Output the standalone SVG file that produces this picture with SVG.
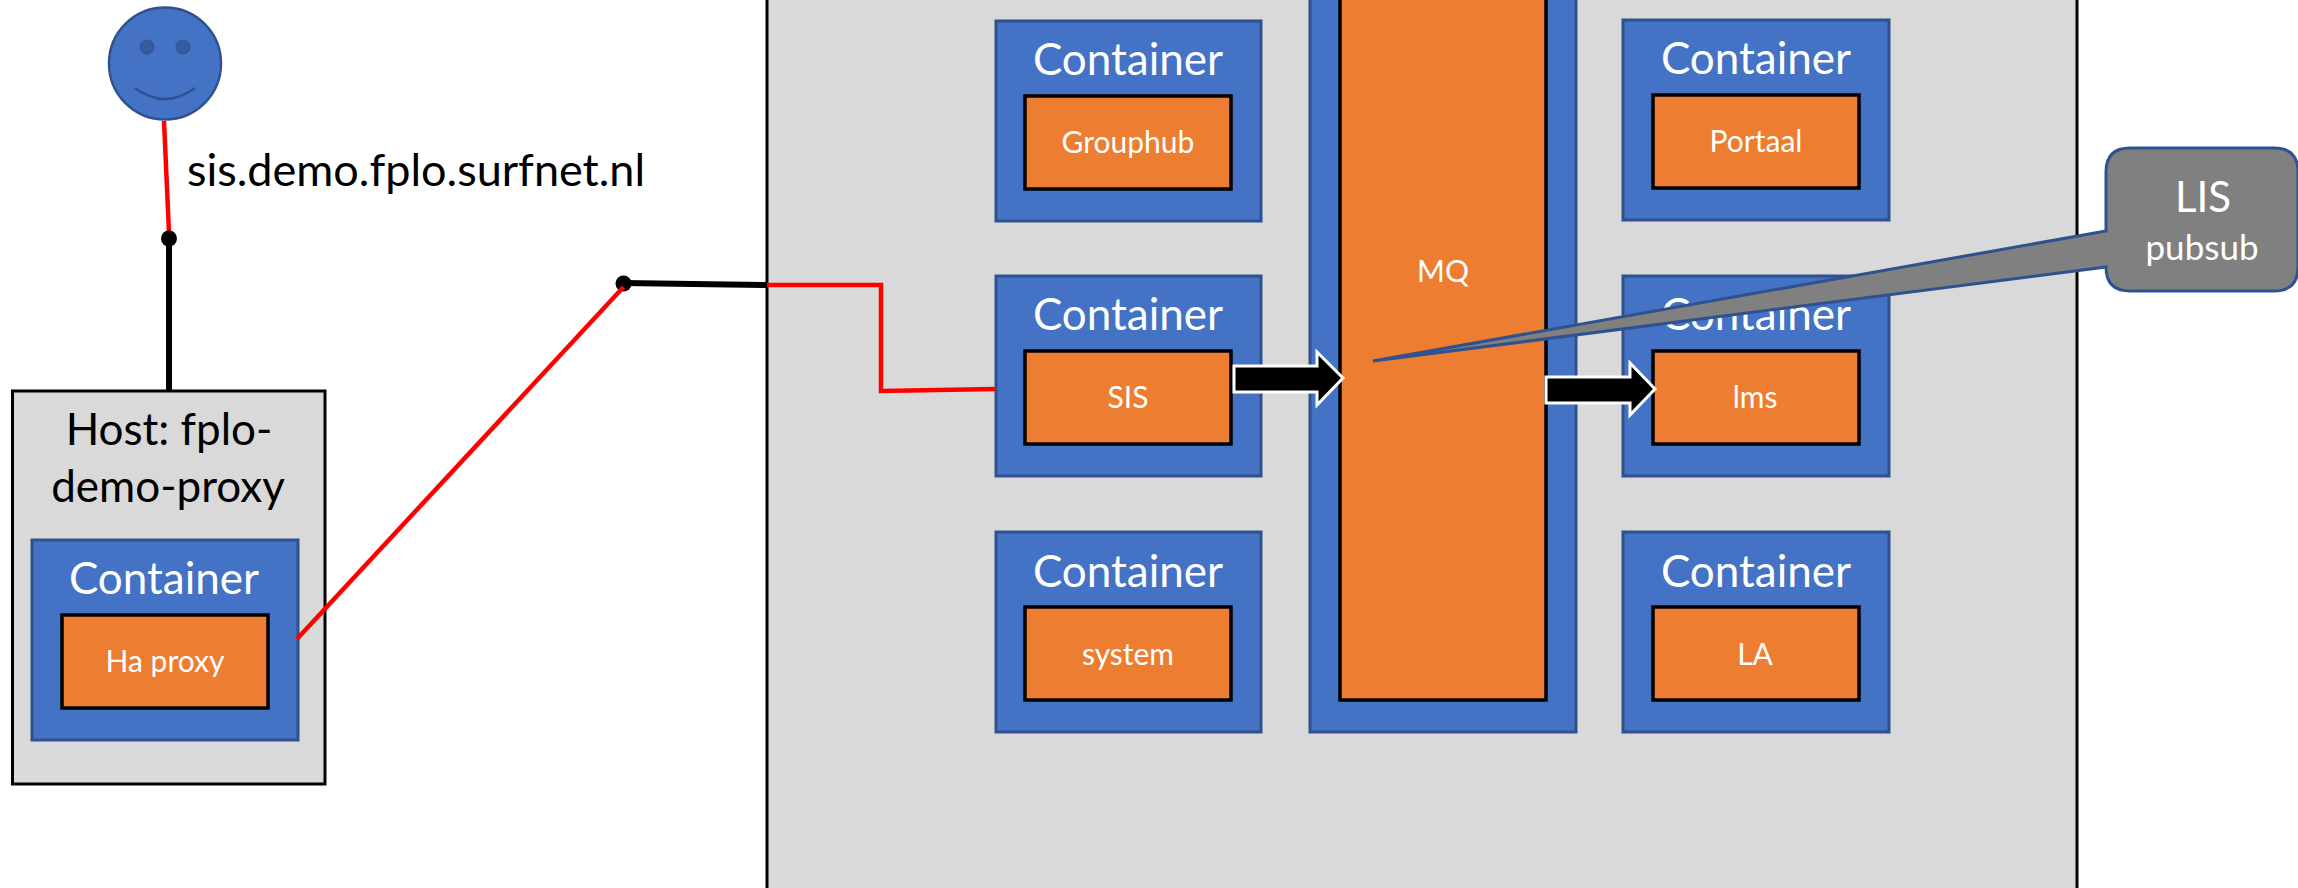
<svg xmlns="http://www.w3.org/2000/svg" width="2298" height="888" viewBox="0 0 2298 888">
<style>
text{font-family:Lato,"Liberation Sans",sans-serif;text-anchor:middle}
.h{fill:#d9d9d9;stroke:#000;stroke-width:3}
.c{fill:#4472c4;stroke:#2f528f;stroke-width:3}
.o{fill:#ed7d31;stroke:#000;stroke-width:3.5}
.t{font-size:44px;fill:#fff}
.s{font-size:30px;fill:#fff}
.b{font-size:44px;fill:#000}
.r{fill:none;stroke:#f00;stroke-width:4.5}
.k{fill:none;stroke:#000;stroke-width:6}
.a{fill:#000;stroke:#fff;stroke-width:3}
</style>
<g id="host-proxy">
<rect class="h" x="12.5" y="391" width="312.5" height="393"/>
<text class="b" x="169" y="445">Host: fplo-</text>
<text class="b" x="168" y="502">demo-proxy</text>
</g>
<g id="container-haproxy">
<rect class="c" x="32" y="540" width="266" height="200"/>
<text class="t" x="164" y="594">Container</text>
<rect class="o" x="62" y="615" width="206" height="93"/>
<text class="s" x="165" y="672">Ha proxy</text>
</g>
<g id="host-main"><rect class="h" x="767" y="-10" width="1310" height="910"/></g>
<g id="container-grouphub">
<rect class="c" x="996" y="21" width="265" height="200"/>
<text class="t" x="1128" y="75">Container</text>
<rect class="o" x="1025" y="96" width="206" height="93"/>
<text class="s" x="1128" y="153">Grouphub</text>
</g>
<g id="container-sis">
<rect class="c" x="996" y="276" width="265" height="200"/>
<text class="t" x="1128" y="330">Container</text>
<rect class="o" x="1025" y="351" width="206" height="93"/>
<text class="s" x="1128" y="408">SIS</text>
</g>
<g id="container-system">
<rect class="c" x="996" y="532" width="265" height="200"/>
<text class="t" x="1128" y="587">Container</text>
<rect class="o" x="1025" y="607" width="206" height="93"/>
<text class="s" x="1128" y="665">system</text>
</g>
<g id="container-mq">
<rect class="c" x="1310" y="-10" width="266" height="742"/>
<rect class="o" x="1340" y="-10" width="206" height="710"/>
<text class="s" x="1443" y="282">MQ</text>
</g>
<g id="container-portaal">
<rect class="c" x="1623" y="20" width="266" height="200"/>
<text class="t" x="1756" y="74">Container</text>
<rect class="o" x="1653" y="95" width="206" height="93"/>
<text class="s" x="1756" y="152">Portaal</text>
</g>
<g id="container-lms">
<rect class="c" x="1623" y="276" width="266" height="200"/>
<text class="t" x="1756" y="330">Container</text>
<rect class="o" x="1653" y="351" width="206" height="93"/>
<text class="s" x="1755" y="408">lms</text>
</g>
<g id="container-la">
<rect class="c" x="1623" y="532" width="266" height="200"/>
<text class="t" x="1756" y="587">Container</text>
<rect class="o" x="1653" y="607" width="206" height="93"/>
<text class="s" x="1755" y="665">LA</text>
</g>
<g id="user">
<circle cx="165" cy="63.5" r="56" fill="#4472c4" stroke="#2f528f" stroke-width="2.5"/>
<circle cx="147" cy="47" r="7" fill="#365b9e" stroke="#2f528f"/>
<circle cx="183" cy="47" r="7" fill="#365b9e" stroke="#2f528f"/>
<path d="M135 88Q165 110 195 88" fill="none" stroke="#2f528f" stroke-width="2.5"/>
</g>
<g id="connectors">
<path class="r" d="M164 121L169 233"/>
<path class="k" d="M169 238V391"/>
<circle cx="169" cy="238.5" r="8"/>
<path class="k" d="M623 283L767 285"/>
<circle cx="623.5" cy="283.5" r="8"/>
<path class="r" d="M297 639L623.5 287"/>
<path class="r" d="M767 285H881V391L996 389"/>
<path class="a" d="M1234 366H1317V352L1343 378L1317 405V392H1234Z"/>
<path class="a" d="M1546 377H1630V363L1655 389L1630 415V403H1546Z"/>
</g>
<text class="b" x="416" y="186" font-size="45" style="font-size:45px">sis.demo.fplo.surfnet.nl</text>
<g id="callout-lis">
<path d="M2130 148H2274Q2298 148 2298 172V267Q2298 291 2274 291H2130Q2106 291 2106 267L1373 361L2106 231V172Q2106 148 2130 148Z" fill="#808080" stroke="#2f528f" stroke-width="3"/>
<text x="2203" y="212" font-size="42" fill="#fff">LIS</text>
<text x="2202" y="260" font-size="35" fill="#fff">pubsub</text>
</g>
</svg>
